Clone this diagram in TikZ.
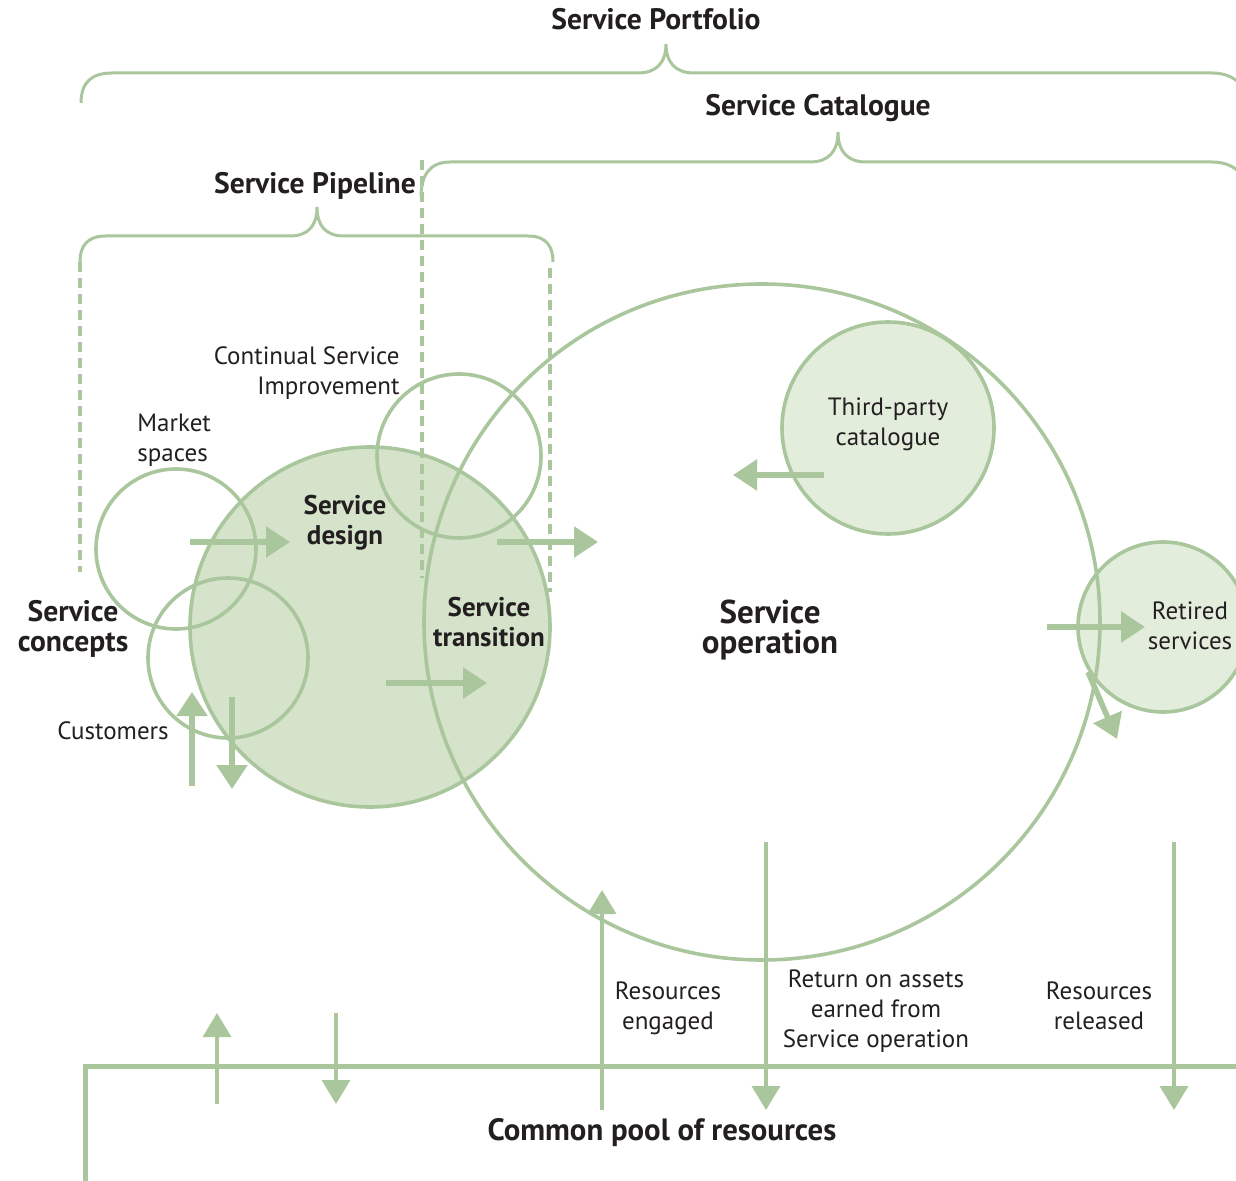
\documentclass[tikz,border=0pt]{standalone}
\usepackage{fontspec}
\setmainfont{PT Sans}
\usetikzlibrary{arrows.meta}
\definecolor{leaf}{HTML}{A9C69D}
\definecolor{leaffill}{HTML}{D5E3CB}
\definecolor{leaflight}{HTML}{E3EDDC}
\definecolor{ink}{HTML}{231F20}

\tikzset{
  ring/.style={draw=leaf, line width=1.8pt, circle, inner sep=0pt},
  brace/.style={draw=leaf, line width=1.5pt},
  guide/.style={draw=leaf, line width=2pt, dash pattern=on 5pt off 3pt},
  flow/.style={draw=leaf, line width=2.8pt, -{Triangle[length=12pt,width=15pt]}},
  thinflow/.style={draw=leaf, line width=1.7pt, -{Triangle[length=12pt,width=14pt]}},
  lbl/.style={text=ink, align=center, inner sep=0pt, font=\fontsize{12.5}{15}\selectfont},
  title/.style={lbl, font=\fontsize{14.8}{15}\selectfont\bfseries},
  inner/.style={lbl, font=\fontsize{13.5}{15}\selectfont\bfseries},
}

\begin{document}
\begin{tikzpicture}[x=0.5pt, y=-0.5pt]
    \clip (0,0) rectangle (1236,1181);

    % braces
    \draw[brace] (81,103) .. controls (81,82) and (92,73) .. (112,73) -- (638,73)
        .. controls (656,73) and (666,63) .. (666,44)
        .. controls (666,63) and (676,73) .. (694,73) -- (1212,73)
        .. controls (1226,73) and (1236,78) .. (1244,88);
    \draw[brace] (421,197) .. controls (421,175) and (430,162) .. (450,162) -- (810,162)
        .. controls (828,162) and (838,152) .. (838,132)
        .. controls (838,152) and (848,162) .. (866,162) -- (1212,162)
        .. controls (1226,162) and (1236,167) .. (1244,177);
    \draw[brace] (80,262) .. controls (80,245) and (88,236) .. (106,236) -- (290,236)
        .. controls (308,236) and (317,226) .. (317,207)
        .. controls (317,226) and (326,236) .. (344,236) -- (528,236)
        .. controls (546,236) and (553,246) .. (553,262);

    % filled circles
    \node[ring, fill=leaffill, minimum size=180pt] (design) at (370,627) {};
    \node[ring, fill=leaflight, minimum size=106pt] (thirdparty) at (888,428) {};
    \node[ring, fill=leaflight, minimum size=85pt] (retired) at (1163,627) {};

    % guides
    \draw[guide] (80,262) -- (80,572);
    \draw[guide] (422,160) -- (422,578);
    \draw[guide] (550,268) -- (550,592);

    % open circles
    \node[ring, minimum size=80pt] (market) at (176,549) {};
    \node[ring, minimum size=80pt] (custs) at (228,658) {};
    \node[ring, minimum size=82pt] (csi) at (459,456) {};
    \node[ring, minimum size=338pt] (operation) at (762,622) {};

    % arrows
    \draw[flow] (190,542) -- (290,542);
    \draw[flow] (497,542) -- (598,542);
    \draw[flow] (386,683) -- (487,683);
    \draw[flow] (192,786) -- (192,692);
    \draw[flow] (232,697) -- (232,789);
    \draw[flow] (824,475) -- (733,475);
    \draw[flow] (1047,627) -- (1145,627);
    \draw[flow] (1088,672) -- (1117,739);

    % resource pool
    \draw[draw=leaf, line width=2.5pt] (85,1183) -- (85,1066) -- (1240,1066);
    \draw[thinflow] (217,1104) -- (217,1013);
    \draw[thinflow] (336,1013) -- (336,1104);
    \draw[thinflow] (602,1110) -- (602,890);
    \draw[thinflow] (766,842) -- (766,1110);
    \draw[thinflow] (1174,842) -- (1174,1110);

    % labels
    \node[title] (portfoliolab) at (656,19) {Service Portfolio};
    \node[title] (cataloguelab) at (818,108) {Service Catalogue};
    \node[title] (pipelinelab) at (315,186) {Service Pipeline};
    \node[lbl, align=right, anchor=east] (csilab) at (400,373) {Continual Service\\Improvement};
    \node[lbl, align=left, anchor=west] (marketlab) at (137,440) {Market\\spaces};
    \node[inner] (designlab) at (345,523) {Service\\design};
    \node[title] (conceptslab) at (73,629) {Service\\concepts};
    \node[lbl] (custslab) at (113,731) {Customers};
    \node[inner] (transitionlab) at (489,622) {Service\\transition};
    \node[title, font=\fontsize{16.5}{15}\selectfont\bfseries] (operationlab) at (770,630) {Service\\operation};
    \node[lbl] (thirdpartylab) at (888,424) {Third-party\\catalogue};
    \node[lbl] (retiredlab) at (1190,626) {Retired\\services};
    \node[lbl] (engagedlab) at (668,1008) {Resources\\engaged};
    \node[lbl] (returnlab) at (876,1011) {Return on assets\\earned from\\Service operation};
    \node[lbl] (releasedlab) at (1099,1006) {Resources\\released};
    \node[title, font=\fontsize{15.4}{15}\selectfont\bfseries] (poollab) at (662,1133) {Common pool of resources};
\end{tikzpicture}
\end{document}
